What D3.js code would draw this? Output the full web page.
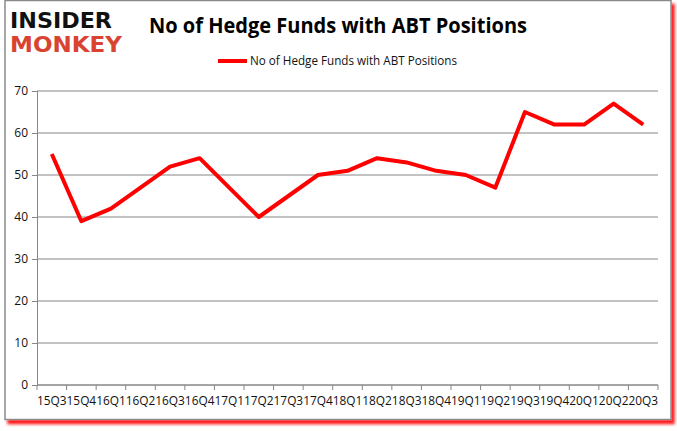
<!DOCTYPE html>
<html>
<head>
<meta charset="utf-8">
<script src="https://cdn.jsdelivr.net/npm/d3@7"></script>
<style>
  html, body { margin: 0; padding: 0; background: #fff; }
  svg { display: block; }
</style>
</head>
<body>
<div id="chart"></div>
<script>
const title = "No of Hedge Funds with ABT Positions";
const seriesName = "No of Hedge Funds with ABT Positions";
const categories = ["15Q3","15Q4","16Q1","16Q2","16Q3","16Q4","17Q1","17Q2","17Q3","17Q4","18Q1","18Q2","18Q3","18Q4","19Q1","19Q2","19Q3","19Q4","20Q1","20Q2","20Q3"];
const values = [55, 39, 42, 47, 52, 54, 47, 40, 45, 50, 51, 54, 53, 51, 50, 47, 65, 62, 62, 67, 62];
const yTicks = [0, 10, 20, 30, 40, 50, 60, 70];

const W = 677, H = 431;
const svg = d3.select("#chart").append("svg").attr("width", W).attr("height", H);

const defs = svg.append("defs");
const f = defs.append("filter").attr("id", "shadow").attr("x", "-5%").attr("y", "-5%").attr("width", "110%").attr("height", "115%");
f.append("feDropShadow").attr("dx", 3).attr("dy", 4).attr("stdDeviation", 1.5).attr("flood-color", "#ff0000").attr("flood-opacity", 0.9);

svg.append("rect").attr("x", 5).attr("y", 0.5).attr("width", 666).attr("height", 419)
  .attr("fill", "#fff").attr("stroke", "#8a8a8a").attr("stroke-width", 1.5).attr("filter", "url(#shadow)");

// Logo
svg.append("text").attr("x", 10).attr("y", 28).text("INSIDER")
  .attr("font-family", "DejaVu Sans").attr("font-weight", "bold").attr("font-size", 21)
  .attr("textLength", 102).attr("lengthAdjust", "spacingAndGlyphs").attr("fill", "#111");
svg.append("text").attr("x", 10).attr("y", 52).text("MONKEY")
  .attr("font-family", "DejaVu Sans").attr("font-weight", "bold").attr("font-size", 21)
  .attr("textLength", 112).attr("lengthAdjust", "spacingAndGlyphs").attr("fill", "#d9432f");

// Title
svg.append("text").attr("x", 338).attr("y", 33).attr("text-anchor", "middle").text(title)
  .attr("font-family", "Open Sans, Liberation Sans, sans-serif").attr("font-weight", "bold").attr("font-size", 21)
  .attr("textLength", 378).attr("lengthAdjust", "spacingAndGlyphs").attr("fill", "#000");

// Legend
svg.append("line").attr("x1", 218).attr("x2", 247).attr("y1", 61).attr("y2", 61)
  .attr("stroke", "#ff0000").attr("stroke-width", 4);
svg.append("text").attr("x", 250).attr("y", 65).text(seriesName)
  .attr("font-family", "Open Sans, Liberation Sans, sans-serif").attr("font-size", 12)
  .attr("textLength", 207).attr("lengthAdjust", "spacingAndGlyphs").attr("fill", "#111");

const x = d3.scaleBand().domain(categories).range([37, 658]);
const y = d3.scaleLinear().domain([0, 70]).range([385, 91]);

// Gridlines
svg.append("g").selectAll("line").data(yTicks).join("line")
  .attr("x1", 37).attr("x2", 658).attr("y1", d => y(d)).attr("y2", d => y(d))
  .attr("stroke", "#868686").attr("stroke-width", 1);

// Y axis
const yAxis = svg.append("g").attr("transform", "translate(37,0)")
  .call(d3.axisLeft(y).tickValues(yTicks).tickSize(5).tickPadding(4));
yAxis.select(".domain").attr("stroke", "#868686");
yAxis.selectAll(".tick line").attr("stroke", "#868686");
yAxis.selectAll("text").attr("font-family", "Open Sans, Liberation Sans, sans-serif").attr("font-size", 12).attr("fill", "#111");

// X axis
const xAxis = svg.append("g").attr("transform", "translate(0,385)")
  .call(d3.axisBottom(x).tickSize(0).tickPadding(11));
xAxis.select(".domain").attr("stroke", "#868686").attr("d", "M37,0H658");
xAxis.selectAll(".tick line").remove();
xAxis.selectAll("text").attr("font-family", "Open Sans, Liberation Sans, sans-serif").attr("font-size", 12).attr("fill", "#111")
  .attr("textLength", 29.6).attr("lengthAdjust", "spacingAndGlyphs");
// boundary ticks
const bounds = categories.map(c => x(c)).concat([x(categories[categories.length - 1]) + x.bandwidth()]);
svg.append("g").selectAll("line").data(bounds).join("line")
  .attr("x1", d => d).attr("x2", d => d).attr("y1", 385).attr("y2", 390)
  .attr("stroke", "#868686");

// Line
const line = d3.line().x((d, i) => x(categories[i]) + x.bandwidth() / 2).y(d => y(d));
svg.append("path").datum(values).attr("d", line).attr("fill", "none")
  .attr("stroke", "#ff0000").attr("stroke-width", 4).attr("stroke-linejoin", "round");
</script>
</body>
</html>
